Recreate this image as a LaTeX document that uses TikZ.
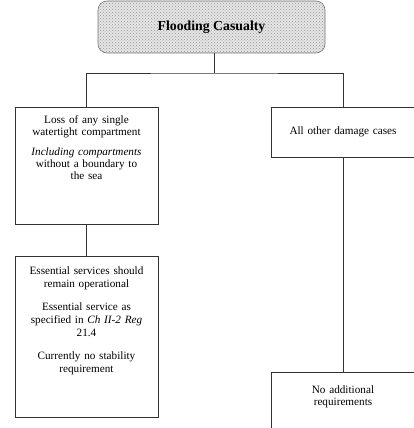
\documentclass[tikz,border=0pt]{standalone}
\usepackage{fontspec}
\setmainfont{Liberation Serif}
\usetikzlibrary{positioning, patterns}
\newcommand{\padbelow}[1]{\rule[-#1]{0pt}{#1}}

\begin{document}
\begin{tikzpicture}[
    x=1pt, y=1pt,
    font=\fontsize{11.2}{12}\selectfont,
    line width=0.6pt,
    box/.style={rectangle, draw=black!80, minimum width=143pt, text width=135pt, align=center, inner xsep=4pt, inner ysep=8pt},
    banner/.style={rectangle, rounded corners=9pt, draw=black!55, preaction={fill=black!10}, pattern=crosshatch dots, pattern color=black!40, minimum width=227pt, minimum height=52pt, font=\fontsize{13.8}{15}\selectfont\bfseries},
    link/.style={draw=black!80},
]
    \useasboundingbox (0,0) rectangle (414,-428);
    \clip (0,0) rectangle (414,-428);

    \node[banner] (flood) at (211.5,-27) {Flooding Casualty};

    \node[box, anchor=north] (loss) at (86.5,-107) {Loss of any single\\ watertight compartment\par\vspace{8pt}
    \textit{Including compartments}\\ without a boundary to\\ the sea\padbelow{37pt}};
    \node[box, below=32pt of loss, inner ysep=10pt, font=\fontsize{11.2}{13}\selectfont] (ess) {Essential services should\\ remain operational\par\vspace{10pt}
    Essential service as\\ specified in \textit{Ch II-2 Reg}\\ 21.4\par\vspace{10pt}
    Currently no stability\\ requirement\padbelow{35pt}};

    \node[box, anchor=north, minimum height=50pt] (other) at (343,-107) {All other damage cases};
    \node[box, below=214pt of other, inner ysep=14pt] (noreq) {No additional\\ requirements\padbelow{50pt}};

    % tree connectors
    \coordinate (split) at (214,-73);
    \draw[link] (flood.south -| split) -- (split);
    \draw[link] (loss.north) |- (split) -| (other.north);
    \draw[link] (loss.south) -- (ess.north);
    \draw[link] (other.south) -- (noreq.north);
\end{tikzpicture}
\end{document}
